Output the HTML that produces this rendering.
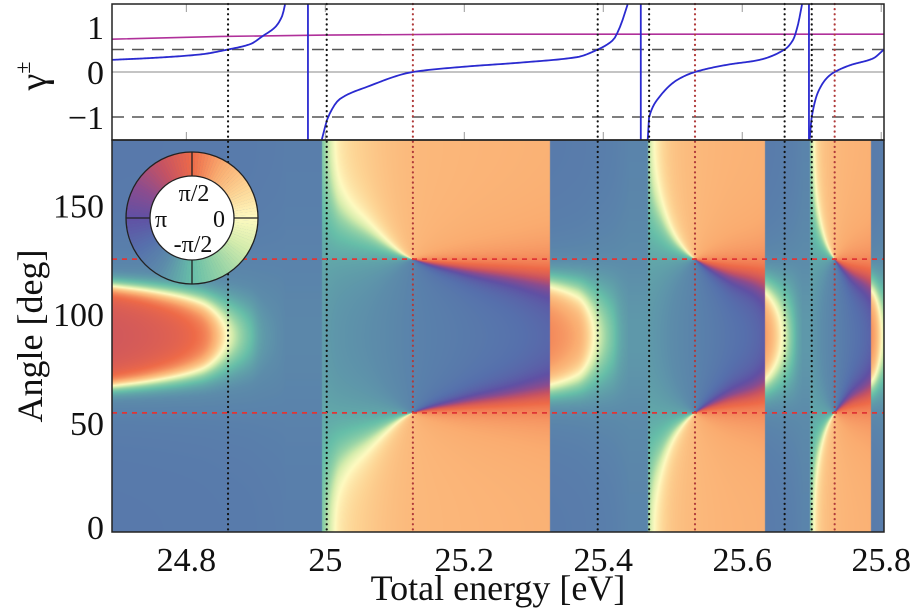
<!DOCTYPE html>
<html><head><meta charset="utf-8"><style>
html,body{margin:0;padding:0;background:#fff;width:916px;height:611px;overflow:hidden}
#wrap{position:relative;width:916px;height:611px}
#hm{position:absolute;left:112px;top:140px}
#ov{position:absolute;left:0;top:0}
text{font-family:"Liberation Serif","DejaVu Serif",serif;fill:#111}
</style></head><body>
<div id="wrap">
<canvas id="hm" width="772" height="392"></canvas>
<svg id="ov" width="916" height="611" xmlns="http://www.w3.org/2000/svg"></svg>
</div>
<script>
// ---- data ----
const xTicks=[24.8,25.0,25.2,25.4,25.6,25.8];
const xTickLabels=["24.8","25","25.2","25.4","25.6","25.8"];
const gTicks=[1,0,-1];
const gTickLabels=["1","0","\u22121"];
const aTicks=[150,100,50,0];
const aTickLabels=["150","100","50","0"];
const gammaSeg1E=[24.693,24.748,24.820,24.860,24.892,24.910,24.928,24.938,24.942];
const gammaSeg1V=[0.27,0.31,0.39,0.5,0.62,0.8,1.0,1.25,1.5];
const gammaSeg2E=[24.995,25.004,25.021,25.060,25.126,25.194,25.290,25.362,25.392,25.414,25.424,25.435];
const gammaSeg2V=[-1.5,-1,-0.6,-0.33,0,0.11,0.22,0.33,0.5,0.71,1.0,1.5];
const gammaSeg3E=[25.464,25.466,25.481,25.506,25.532,25.578,25.625,25.661,25.673,25.680,25.686];
const gammaSeg3V=[-1.5,-1,-0.55,-0.18,0,0.16,0.27,0.5,0.71,1.04,1.5];
const gammaSeg4E=[25.697,25.700,25.709,25.722,25.733,25.755,25.788,25.804];
const gammaSeg4V=[-1.5,-1,-0.45,-0.13,0,0.15,0.3,0.5];
const jumpLinesE=[24.975,25.454,25.696];
const magentaE=[24.693,24.85,25.0,25.2,25.804];
const magentaV=[0.73,0.79,0.82,0.84,0.84];
const blackDottedE=[24.860,25.002,25.392,25.466,25.661,25.700];
const redDottedE=[25.126,25.532,25.733];
const magicAngles=[54.7,125.3];
const regionStartE=[24.693,24.995,25.323,25.465,25.633,25.697,25.786];
const regionType=["A","B","C","B","C","B","C"];

// ---- axes ----
const L=112,R=884,T1=4,B1=140,B2=532;
const E0=24.693,E1=25.804;
function xs(e){return L+(e-E0)/(E1-E0)*(R-L);}
function ysTop(g){return 72-g*45;}
function ysAng(a){return B2-a/180*(B2-B1);}

const segsE=[gammaSeg1E,gammaSeg2E,gammaSeg3E,gammaSeg4E];
const segsV=[gammaSeg1V,gammaSeg2V,gammaSeg3V,gammaSeg4V];
function slopes(X,Y){const n=X.length,d=[],m=[];for(let i=0;i<n-1;i++)d.push((Y[i+1]-Y[i])/(X[i+1]-X[i]));
  m[0]=d[0];m[n-1]=d[n-2];for(let i=1;i<n-1;i++){m[i]=(d[i-1]*d[i]<=0)?0:2/(1/d[i-1]+1/d[i]);}return m;}
const segsM=segsE.map((E,s)=>slopes(E,segsV[s]));
function herm(s,e){const X=segsE[s],Y=segsV[s],M=segsM[s];
  for(let i=0;i<X.length-1;i++){if(e<=X[i+1]){const h=X[i+1]-X[i],t=(e-X[i])/h,t2=t*t,t3=t2*t;
    return (2*t3-3*t2+1)*Y[i]+(t3-2*t2+t)*h*M[i]+(-2*t3+3*t2)*Y[i+1]+(t3-t2)*h*M[i+1];}}
  return Y[Y.length-1];}
function gammaAt(e){
  for(let s=0;s<segsE.length;s++){const E=segsE[s];if(e>=E[0]&&e<=E[E.length-1])return herm(s,e);}
  return 1.8;
}
function regionAt(e){let r=0;for(let i=0;i<regionStartE.length;i++)if(e>=regionStartE[i])r=i;return regionType[r];}

// colormap (cyclic)
const cmP=[0,30,60,90,120,150,180,210,240,270,300,330,360];
const cmC=[[254,250,192],[253,212,148],[250,172,112],[238,106,72],[198,82,98],[140,76,142],[96,80,164],[86,112,172],[92,140,170],[102,190,168],[152,212,166],[212,236,172],[254,250,192]];
function col(p){p=((p%360)+360)%360;let i=Math.min(11,Math.floor(p/30));const t=(p-cmP[i])/30;const a=cmC[i],b=cmC[i+1];return [a[0]+t*(b[0]-a[0]),a[1]+t*(b[1]-a[1]),a[2]+t*(b[2]-a[2])];}
function phase(e,th){
  const c=Math.cos(th*Math.PI/180);const u=(3*c*c-1)/2;const g=gammaAt(e);const a=u+g;const r=regionAt(e);
  if(r==="B"){const psi=Math.atan2(0.5*g,a)*180/Math.PI;return 50+psi;}
  if(r==="A"){const psi=Math.atan2(0.15*g,a)*180/Math.PI;return 217+1.5*psi;}
  const psi=Math.atan2(0.3*g,a)*180/Math.PI;return 217+1.35*psi;
}
// heatmap
const cv=document.getElementById('hm'),ctx=cv.getContext('2d');
const W=772,H=392,img=ctx.createImageData(W,H);
for(let px=0;px<W;px++){const e=E0+(px+0.5)/W*(E1-E0);
  for(let py=0;py<H;py++){const th=180-(py+0.5)/H*180;const c=col(phase(e,th));const k=(py*W+px)*4;
    img.data[k]=c[0];img.data[k+1]=c[1];img.data[k+2]=c[2];img.data[k+3]=255;}}
ctx.putImageData(img,0,0);

// ---- svg overlay ----
const NS="http://www.w3.org/2000/svg",sv=document.getElementById('ov');
function mk(tag,at,parent){const el=document.createElementNS(NS,tag);for(const k in at)el.setAttribute(k,at[k]);(parent||sv).appendChild(el);return el;}
const topBg=mk('rect',{x:L,y:T1,width:R-L,height:B1-T1,fill:'#fff'});


const defs=mk('defs',{});
const cp=mk('clipPath',{id:'ctop'},defs);mk('rect',{x:L,y:T1,width:R-L,height:B1-T1},cp);
const gTop=mk('g',{'clip-path':'url(#ctop)'});


const zl=mk('line',{x1:L,x2:R,y1:ysTop(0),y2:ysTop(0),stroke:'#888','stroke-width':1},gTop);


[0.5,-1].forEach(v=>{const l=mk('line',{x1:L,x2:R,y1:ysTop(v),y2:ysTop(v),stroke:'#555','stroke-width':1.5,'stroke-dasharray':'12 8'},gTop);
  
  });
xTicks.forEach(t=>{const x=xs(t);
  const a=mk('line',{x1:x,x2:x,y1:T1,y2:T1+8,stroke:'#999','stroke-width':1},gTop);
  const b=mk('line',{x1:x,x2:x,y1:B1,y2:B1-8,stroke:'#999','stroke-width':1},gTop);});
let mp=magentaE.map((e,i)=>xs(e)+','+ysTop(magentaV[i])).join(' ');
const ml=mk('polyline',{points:mp,fill:'none',stroke:'#b0309a','stroke-width':1.6},gTop);


segsE.forEach((E,s)=>{const pts=[];const n=120;
  for(let i=0;i<=n;i++){const e=E[0]+(E[E.length-1]-E[0])*i/n;pts.push(xs(e).toFixed(2)+','+ysTop(herm(s,e)).toFixed(2));}
  const p=mk('polyline',{points:pts.join(' '),fill:'none',stroke:'#2a2ad0','stroke-width':1.8,'stroke-linejoin':'round'},gTop);
  
  });
jumpLinesE.forEach(e=>{const l=mk('line',{x1:xs(e),x2:xs(e),y1:T1,y2:B1,stroke:'#2a2ad0','stroke-width':1.8},gTop);
  
  });
blackDottedE.forEach(e=>{const l=mk('line',{x1:xs(e),x2:xs(e),y1:T1,y2:B2,stroke:'#111','stroke-width':2.2,'stroke-dasharray':'0.1 5','stroke-linecap':'round'});
  
  });
redDottedE.forEach(e=>{const l=mk('line',{x1:xs(e),x2:xs(e),y1:T1,y2:B2,stroke:'#b03a3a','stroke-width':2.2,'stroke-dasharray':'0.1 5','stroke-linecap':'round'});
  
  });
magicAngles.forEach(a=>{const l=mk('line',{x1:L,x2:R,y1:ysAng(a),y2:ysAng(a),stroke:'#e03535','stroke-width':1.8,'stroke-dasharray':'5 5'});
  
  });
const f1=mk('rect',{x:L,y:T1,width:R-L,height:B1-T1,fill:'none',stroke:'#222','stroke-width':1.5});


const f2=mk('rect',{x:L,y:B1,width:R-L,height:B2-B1,fill:'none',stroke:'#222','stroke-width':1.5});


// colour wheel
const wg=mk('g',{});


const cx=192,cy=218,Ro=66,Ri=42,N=120;
for(let i=0;i<N;i++){const a0=i/N*2*Math.PI,a1=(i+1.05)/N*2*Math.PI;const c=col((i+0.5)/N*360);
  const d=`M${cx+Ro*Math.cos(a0)},${cy-Ro*Math.sin(a0)} A${Ro},${Ro} 0 0 0 ${cx+Ro*Math.cos(a1)},${cy-Ro*Math.sin(a1)} L${cx+Ri*Math.cos(a1)},${cy-Ri*Math.sin(a1)} A${Ri},${Ri} 0 0 1 ${cx+Ri*Math.cos(a0)},${cy-Ri*Math.sin(a0)} Z`;
  mk('path',{d:d,fill:`rgb(${c.map(Math.round).join(',')})`},wg);}
mk('circle',{cx:cx,cy:cy,r:Ri,fill:'#fff',stroke:'#222','stroke-width':1.3},wg);
mk('circle',{cx:cx,cy:cy,r:Ro,fill:'none',stroke:'#222','stroke-width':1.3},wg);
[[Ri,0,Ro,0],[-Ri,0,-Ro,0],[0,Ri,0,Ro],[0,-Ri,0,-Ro]].forEach(q=>mk('line',{x1:cx+q[0],y1:cy+q[1],x2:cx+q[2],y2:cy+q[3],stroke:'#222','stroke-width':1.3},wg));
[["\u03c0/2",cx+2,cy-17],["\u03c0",cx-31,cy+9],["0",cx+27,cy+9],["-\u03c0/2",cx+1,cy+34]].forEach(s=>{
  const t=mk('text',{x:s[1],y:s[2],'font-size':24,'text-anchor':'middle'},wg);t.textContent=s[0];});
// tick labels
xTicks.forEach((t,i)=>{const tx=mk('text',{x:xs(t),y:571,'font-size':34,'text-anchor':'middle'});tx.textContent=xTickLabels[i];
  
  });
gTicks.forEach((t,i)=>{const tx=mk('text',{x:104,y:ysTop(t)+12,'font-size':34,'text-anchor':'end'});tx.textContent=gTickLabels[i];
  
  });
aTicks.forEach((t,i)=>{const tx=mk('text',{x:104,y:ysAng(t)+(t===0?7:12),'font-size':34,'text-anchor':'end'});tx.textContent=aTickLabels[i];
  
  });
const xt=mk('text',{x:498,y:600,'font-size':36,'text-anchor':'middle'});xt.textContent="Total energy [eV]";


const yt=mk('text',{x:0,y:0,'font-size':36,'text-anchor':'middle',transform:'translate(42,336) rotate(-90)'});yt.textContent="Angle [deg]";


const gt=mk('text',{x:0,y:0,'font-size':38,'text-anchor':'middle',transform:'translate(46,76) rotate(-90)'});


const ts1=mk('tspan',{},gt);ts1.textContent="\u03b3";
const ts2=mk('tspan',{'font-size':22,dy:-16},gt);ts2.textContent="\u00b1";
</script>
</body></html>
